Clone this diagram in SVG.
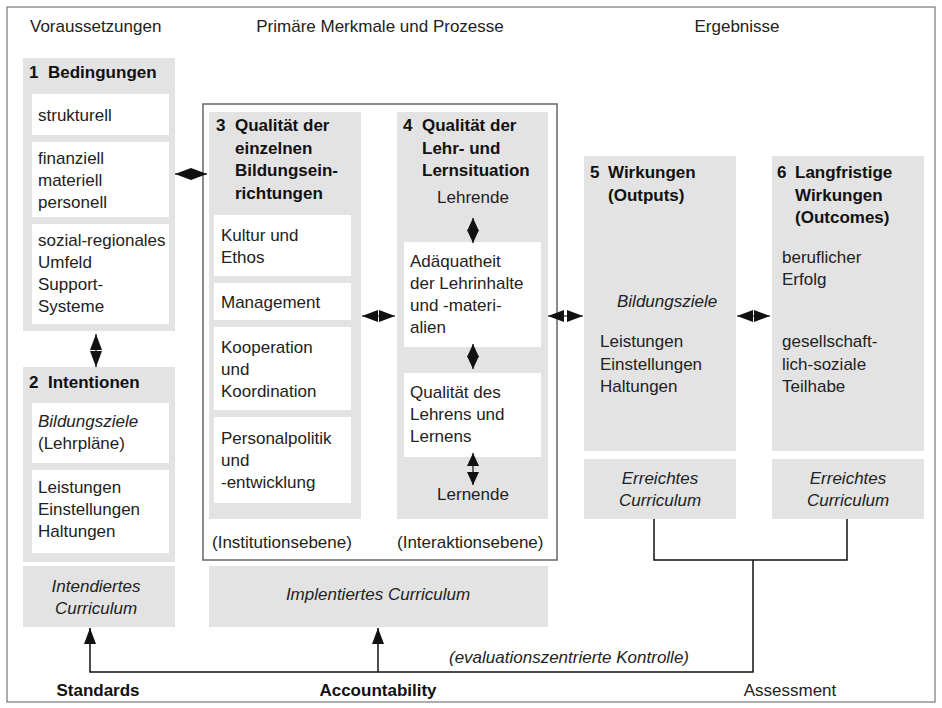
<svg xmlns="http://www.w3.org/2000/svg" width="942" height="708" viewBox="0 0 942 708">
<style>
text{font-family:"Liberation Sans",Arial,sans-serif;font-size:17px;fill:#222}
.b{font-weight:bold;fill:#111}
.i{font-style:italic}
.m{text-anchor:middle}
.g{fill:#e3e3e3}
.w{fill:#fff}
.ln{fill:none;stroke:#111;stroke-width:1.5}
.da{fill:none;stroke:#111;stroke-width:1.2;marker-start:url(#ah);marker-end:url(#ah)}
.ds{fill:none;stroke:#111;stroke-width:1.2;marker-start:url(#as);marker-end:url(#as)}
.ua{fill:none;stroke:#111;stroke-width:1.5;marker-end:url(#au)}
</style>
<defs>
<marker id="ah" markerUnits="userSpaceOnUse" markerWidth="16" markerHeight="12" refX="16" refY="6" orient="auto-start-reverse" viewBox="0 0 16 12"><path d="M0,0L16,6L0,12z" fill="#111"/></marker>
<marker id="as" markerUnits="userSpaceOnUse" markerWidth="13" markerHeight="12" refX="13" refY="6" orient="auto-start-reverse" viewBox="0 0 13 12"><path d="M0,0L13,6L0,12z" fill="#111"/></marker>
<marker id="au" markerUnits="userSpaceOnUse" markerWidth="16" markerHeight="12" refX="16" refY="6" orient="auto" viewBox="0 0 16 12"><path d="M0,0L16,6L0,12z" fill="#111"/></marker>
</defs>
<rect x="7" y="7" width="928" height="695" fill="#fff" stroke="#777" stroke-width="1.2"/>
<g id="headers">
<text x="30" y="32">Voraussetzungen</text>
<text x="380" y="32" class="m">Primäre Merkmale und Prozesse</text>
<text x="737" y="32" class="m">Ergebnisse</text>
</g>
<g id="n1">
<rect x="23" y="58" width="152" height="273" class="g"/>
<text x="29" y="78" class="b">1</text><text x="48" y="78" class="b">Bedingungen</text>
<rect x="32" y="94" width="137" height="41" class="w"/>
<text x="38" y="121">strukturell</text>
<rect x="32" y="142" width="137" height="75" class="w"/>
<text x="38" y="164">finanziell<tspan x="38" dy="22">materiell</tspan><tspan x="38" dy="22">personell</tspan></text>
<rect x="32" y="224" width="137" height="100" class="w"/>
<text x="38" y="246">sozial-regionales<tspan x="38" dy="22">Umfeld</tspan><tspan x="38" dy="22">Support-</tspan><tspan x="38" dy="22">Systeme</tspan></text>
</g>
<g id="n2">
<rect x="23" y="367" width="152" height="195" class="g"/>
<text x="29" y="388" class="b">2</text><text x="48" y="388" class="b">Intentionen</text>
<rect x="32" y="403" width="137" height="60" class="w"/>
<text x="38" y="427" class="i">Bildungsziele</text>
<text x="38" y="449">(Lehrpläne)</text>
<rect x="32" y="470" width="137" height="83" class="w"/>
<text x="38" y="493">Leistungen<tspan x="38" dy="22">Einstellungen</tspan><tspan x="38" dy="22">Haltungen</tspan></text>
</g>
<g id="c_intendiert">
<rect x="23" y="566" width="152" height="61" class="g"/>
<text x="96" y="592" class="i m">Intendiertes<tspan x="96" dy="22">Curriculum</tspan></text>
</g>
<g id="frame34">
<rect x="203" y="104" width="354" height="456" fill="#fff" stroke="#666" stroke-width="1.5"/>
<text x="212" y="548">(Institutionsebene)</text>
<text x="397" y="548">(Interaktionsebene)</text>
</g>
<g id="n3">
<rect x="209" y="112" width="152" height="407" class="g"/>
<text x="216" y="131" class="b">3</text>
<text x="235" y="131" class="b">Qualität der<tspan x="235" dy="22.5">einzelnen</tspan><tspan x="235" dy="22.5">Bildungsein-</tspan><tspan x="235" dy="22.5">richtungen</tspan></text>
<rect x="214" y="215" width="137" height="61" class="w"/>
<text x="221" y="241">Kultur und<tspan x="221" dy="22">Ethos</tspan></text>
<rect x="214" y="283" width="137" height="37" class="w"/>
<text x="221" y="308">Management</text>
<rect x="214" y="327" width="137" height="83" class="w"/>
<text x="221" y="353">Kooperation<tspan x="221" dy="22">und</tspan><tspan x="221" dy="22">Koordination</tspan></text>
<rect x="214" y="417" width="137" height="86" class="w"/>
<text x="221" y="444">Personalpolitik<tspan x="221" dy="22">und</tspan><tspan x="221" dy="22">-entwicklung</tspan></text>
</g>
<g id="n4">
<rect x="397" y="112" width="151" height="407" class="g"/>
<text x="403" y="131" class="b">4</text>
<text x="422" y="131" class="b">Qualität der<tspan x="422" dy="22.5">Lehr- und</tspan><tspan x="422" dy="22.5">Lernsituation</tspan></text>
<text x="473" y="203" class="m">Lehrende</text>
<rect x="404" y="242" width="137" height="105" class="w"/>
<text x="410" y="267">Adäquatheit<tspan x="410" dy="22">der Lehrinhalte</tspan><tspan x="410" dy="22">und -materi-</tspan><tspan x="410" dy="22">alien</tspan></text>
<rect x="404" y="373" width="137" height="84" class="w"/>
<text x="410" y="398">Qualität des<tspan x="410" dy="22">Lehrens und</tspan><tspan x="410" dy="22">Lernens</tspan></text>
<text x="473" y="500" class="m">Lernende</text>
</g>
<g id="c_implementiert">
<rect x="209" y="566" width="339" height="61" class="g"/>
<text x="378" y="600" class="i m">Implentiertes Curriculum</text>
</g>
<g id="n5">
<rect x="584" y="156" width="152" height="295" class="g"/>
<text x="590" y="178" class="b">5</text>
<text x="608" y="178" class="b">Wirkungen<tspan x="608" dy="22.5">(Outputs)</tspan></text>
<text x="617" y="307" class="i">Bildungsziele</text>
<text x="600" y="347">Leistungen<tspan x="600" dy="22.5">Einstellungen</tspan><tspan x="600" dy="22.5">Haltungen</tspan></text>
</g>
<g id="n6">
<rect x="772" y="156" width="152" height="295" class="g"/>
<text x="777" y="178" class="b">6</text>
<text x="795" y="178" class="b">Langfristige<tspan x="795" dy="22.5">Wirkungen</tspan><tspan x="795" dy="22.5">(Outcomes)</tspan></text>
<text x="782" y="263">beruflicher<tspan x="782" dy="22">Erfolg</tspan></text>
<text x="782" y="347">gesellschaft-<tspan x="782" dy="22.5">lich-soziale</tspan><tspan x="782" dy="22.5">Teilhabe</tspan></text>
</g>
<g id="c_erreicht5">
<rect x="584" y="459" width="152" height="60" class="g"/>
<text x="660" y="484" class="i m">Erreichtes<tspan x="660" dy="22">Curriculum</tspan></text>
</g>
<g id="c_erreicht6">
<rect x="772" y="459" width="152" height="60" class="g"/>
<text x="848" y="484" class="i m">Erreichtes<tspan x="848" dy="22">Curriculum</tspan></text>
</g>
<g id="connectors">
<line x1="175" y1="174" x2="207" y2="174" class="da"/>
<line x1="96" y1="334" x2="96" y2="367" class="da"/>
<line x1="362" y1="316" x2="395" y2="316" class="da"/>
<line x1="548" y1="316" x2="583" y2="316" class="da"/>
<line x1="737" y1="316" x2="770" y2="316" class="da"/>
<line x1="473" y1="218" x2="473" y2="243" class="ds"/>
<line x1="473" y1="344" x2="473" y2="369" class="ds"/>
<line x1="473" y1="453" x2="473" y2="485" class="ds"/>
<polyline points="654,519 654,560 847,560 847,519" class="ln"/>
<polyline points="753,560 753,672 90,672 90,629" class="ln"/>
<line x1="90" y1="640" x2="90" y2="628" class="ua"/>
<line x1="378" y1="672" x2="378" y2="628" class="ua"/>
<text x="449" y="663" class="i">(evaluationszentrierte Kontrolle)</text>
</g>
<g id="footer">
<text x="98" y="696" class="b m">Standards</text>
<text x="378" y="696" class="b m">Accountability</text>
<text x="790" y="696" class="m">Assessment</text>
</g>
</svg>
